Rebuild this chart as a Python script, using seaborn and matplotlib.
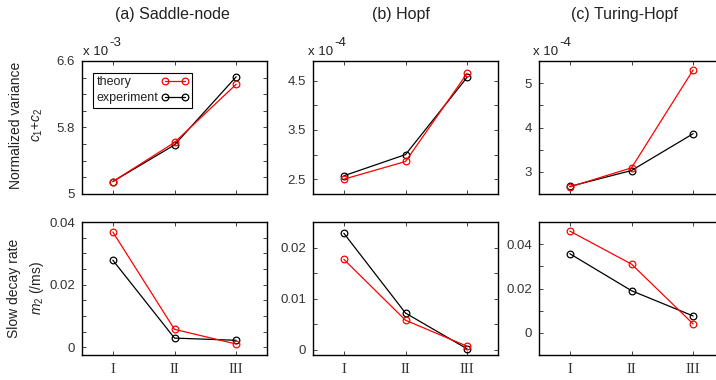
import matplotlib
matplotlib.use("Agg")
import matplotlib.pyplot as plt
import numpy as np
import pandas as pd
import seaborn as sns

# ---------------- data ----------------
stages = ["I", "II", "III"]
series_names = ["theory", "experiment"]
panel_titles = ["(a) Saddle-node", "(b) Hopf", "(c) Turing-Hopf"]
var_exponents = ["-3", "-4", "-4"]

# normalized variance c1+c2 (shown in units of 10^exponent)
var_theory_sn = [5.15, 5.62, 6.32]
var_exp_sn = [5.15, 5.59, 6.41]
var_theory_hopf = [2.50, 2.86, 4.65]
var_exp_hopf = [2.57, 3.00, 4.57]
var_theory_th = [2.66, 3.09, 5.30]
var_exp_th = [2.67, 3.03, 3.86]

# slow decay rate m2 (/ms)
rate_theory_sn = [0.0368, 0.0057, 0.0010]
rate_exp_sn = [0.0278, 0.0029, 0.0022]
rate_theory_hopf = [0.0177, 0.0058, 0.0007]
rate_exp_hopf = [0.0228, 0.0072, 0.0002]
rate_theory_th = [0.0459, 0.0310, 0.0040]
rate_exp_th = [0.0357, 0.0190, 0.0076]

# axis tick values and labels
var_ticks = [
    ([5.0, 5.2, 5.4, 5.6, 5.8, 6.0, 6.2, 6.4, 6.6], ["5", "", "", "", "5.8", "", "", "", "6.6"], (5.0, 6.6)),
    ([2.5, 3.0, 3.5, 4.0, 4.5], ["2.5", "", "3.5", "", "4.5"], (2.2, 4.9)),
    ([3.0, 3.5, 4.0, 4.5, 5.0], ["3", "", "4", "", "5"], (2.5, 5.5)),
]
rate_ticks = [
    ([0, 0.005, 0.01, 0.015, 0.02, 0.025, 0.03, 0.035, 0.04], ["0", "", "", "", "0.02", "", "", "", "0.04"], (-0.0025, 0.04)),
    ([0, 0.005, 0.01, 0.015, 0.02], ["0", "", "0.01", "", "0.02"], (-0.001, 0.025)),
    ([-0.01, 0, 0.01, 0.02, 0.03, 0.04], ["", "0", "", "0.02", "", "0.04"], (-0.01, 0.05)),
]

colors = {"theory": "#ff0000", "experiment": "#000000"}

# ---------------- style ----------------
sns.set_theme(style="white")
plt.rcParams["font.family"] = ["Liberation Sans", "DejaVu Sans"]
plt.rcParams["mathtext.fontset"] = "custom"
plt.rcParams["mathtext.rm"] = "Liberation Sans"
plt.rcParams["mathtext.it"] = "Liberation Sans:italic"
plt.rcParams["axes.grid"] = False

W, H = 716, 380
fig = plt.figure(figsize=(W / 100, H / 100), dpi=100)
fig.patch.set_facecolor("white")

col_left = [82, 313, 539]
ax_w, ax_h = 185, 133
row_top = [61, 222]


def make_ax(col, row):
    left = col_left[col]
    top = row_top[row]
    return fig.add_axes([left / W, (H - top - ax_h) / H, ax_w / W, ax_h / H])


def draw(ax, theory, experiment):
    df_e = pd.DataFrame({"stage": stages, "value": experiment})
    df_t = pd.DataFrame({"stage": stages, "value": theory})
    sns.lineplot(data=df_e, x="stage", y="value", ax=ax, color=colors["experiment"],
                 marker="o", markersize=4.8, mfc="none", mec=colors["experiment"], mew=0.9,
                 linewidth=0.9, sort=False, errorbar=None, legend=False)
    sns.lineplot(data=df_t, x="stage", y="value", ax=ax, color=colors["theory"],
                 marker="o", markersize=4.8, mfc="none", mec=colors["theory"], mew=0.9,
                 linewidth=0.9, sort=False, errorbar=None, legend=False)


def style(ax, ticks, labels, lim, show_x):
    ax.set_xlim(-0.5, 2.5)
    ax.set_ylim(*lim)
    ax.set_yticks(ticks, labels)
    ax.set_xlabel("")
    ax.set_ylabel("")
    ax.tick_params(axis="both", which="both", direction="in", length=3, width=0.6,
                   top=True, right=True, bottom=True, left=True, color="#222222")
    ax.tick_params(axis="y", labelsize=9.5, pad=5, labelcolor="#333333")
    ax.tick_params(axis="x", labelsize=10.5, pad=6, labelcolor="#333333")
    if show_x:
        for lbl in ax.get_xticklabels():
            lbl.set_fontfamily("Liberation Serif")
    else:
        ax.set_xticklabels([])
    for s in ax.spines.values():
        s.set_visible(True)
        s.set_color("black")
        s.set_linewidth(1.0)


var_data = [(var_theory_sn, var_exp_sn), (var_theory_hopf, var_exp_hopf), (var_theory_th, var_exp_th)]
rate_data = [(rate_theory_sn, rate_exp_sn), (rate_theory_hopf, rate_exp_hopf), (rate_theory_th, rate_exp_th)]

title_x = [172, 401, 624]
offset_x = [83, 308, 533]

axes_top = []
for c in range(3):
    ax = make_ax(c, 0)
    draw(ax, *var_data[c])
    style(ax, *var_ticks[c], show_x=False)
    axes_top.append(ax)
    # multiplier text
    fig.text(offset_x[c] / W, 1 - 52 / H, "x 10", fontsize=9.5, color="#222222", ha="left", va="center")
    fig.text((offset_x[c] + 26) / W, 1 - 43 / H, var_exponents[c], fontsize=9.5, color="#222222",
             ha="left", va="center")
    fig.text(title_x[c] / W, 1 - 14 / H, panel_titles[c], fontsize=11.5, color="#222222",
             ha="center", va="center")

    axb = make_ax(c, 1)
    draw(axb, *rate_data[c])
    style(axb, *rate_ticks[c], show_x=True)

# y labels
fig.text(16 / W, 1 - 125 / H, "Normalized variance", rotation=90, fontsize=10, color="#222222",
         ha="center", va="center")
fig.text(37.5 / W, 1 - 125 / H, r"$c_1$+$c_2$", rotation=90, fontsize=10, color="#222222",
         ha="center", va="center")
fig.text(14 / W, 1 - 288 / H, "Slow decay rate", rotation=90, fontsize=10, color="#222222",
         ha="center", va="center")
fig.text(37.5 / W, 1 - 288 / H, r"$m_2$ (/ms)", rotation=90, fontsize=10, color="#222222",
         ha="center", va="center")

# legend (panel a, top)
ax0 = axes_top[0]
line_exp, line_th = ax0.get_lines()[0], ax0.get_lines()[1]
leg = ax0.legend([line_th, line_exp], series_names, loc="upper left",
                 bbox_to_anchor=(0.058, 0.912), borderaxespad=0, markerfirst=False, numpoints=2,
                 handlelength=2.2, handletextpad=0.2, fancybox=False, framealpha=1,
                 edgecolor="black", fontsize=9, borderpad=0.3, labelspacing=0.3)
leg.get_frame().set_linewidth(0.8)
for t in leg.get_texts():
    t.set_color("#222222")

# left-align legend labels while keeping handles on the right
try:
    fig.canvas.draw()
    r = fig.canvas.get_renderer()
    widths = [t.get_window_extent(r).width for t in leg.get_texts()]
    rows = leg._legend_handle_box.get_children()[0].get_children()
    base_sep = 0.2 * 9
    maxw = max(widths)
    for row, w in zip(rows, widths):
        row.sep = base_sep + (maxw - w) * 72 / fig.dpi
except Exception:
    pass

fig.savefig("out.png", dpi=100)
